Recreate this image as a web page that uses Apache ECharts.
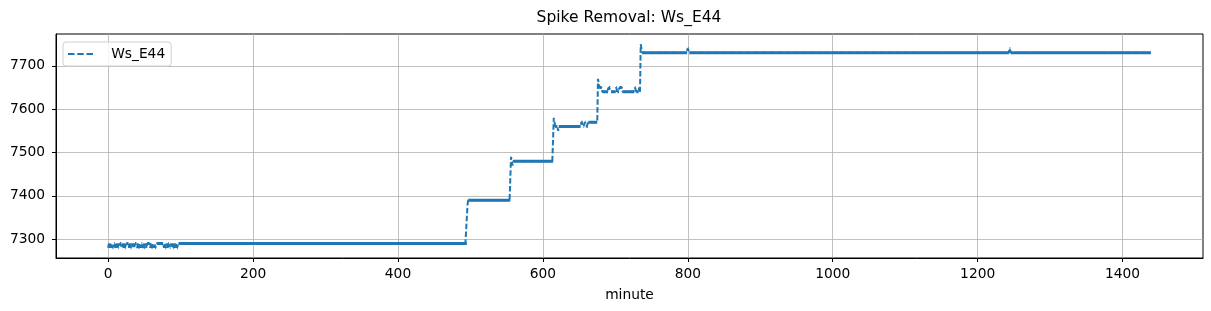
<!DOCTYPE html>
<html><head><meta charset="utf-8">
<script src="https://cdn.jsdelivr.net/npm/echarts@6/dist/echarts.min.js"></script>
<style>html,body{margin:0;padding:0;background:#fff}#c{width:1211px;height:311px}</style>
</head><body><div id="c"></div><script>
// ---- data ----
const chartTitle = 'Spike Removal: Ws_E44';
const seriesName = 'Ws_E44';
const xName = 'minute';
// level runs: value holds from levelStart[i] until the next start
const levelStart = [0,496,497,556,557,558,559,615,616,617,621,622,653,656,658,660,663,676,677,678,682,691,694,701,703,706,710,727,729,733,734,735,736,737,800,802,1244,1246];
const levelValue = [7290,7380,7390,7490,7480,7470,7480,7580,7570,7560,7550,7560,7570,7560,7570,7560,7570,7670,7660,7650,7640,7650,7640,7650,7640,7650,7640,7650,7640,7650,7640,7750,7740,7730,7740,7730,7740,7730];
// short downward spikes in the first 100 minutes: [dipStart, dipEnd) at dipValue
const dipStart = [0,2,4,6,10,12,14,19,21,23,29,31,34,36,40,42,45,48,50,53,58,60,63,65,77,79,82,85,88,90,93,95];
const dipEnd   = [1,3,5,8,11,13,16,20,22,25,30,33,35,37,41,44,46,49,52,54,59,62,64,67,78,81,83,87,89,92,94,97];
const dipValue = 7280;
const lastMinute = 1439;
const xTicks = [0,200,400,600,800,1000,1200,1400];
const yTicks = [7300,7400,7500,7600,7700];

// ---- expand to one point per minute ----
const minutes = [];
const values = [];
let r = 0;
for (let t = 0; t <= lastMinute; t++) {
  while (r + 1 < levelStart.length && levelStart[r + 1] <= t) r++;
  let v = levelValue[r];
  for (let k = 0; k < dipStart.length; k++) if (t >= dipStart[k] && t < dipEnd[k]) v = dipValue;
  minutes.push(t);
  values.push(v);
}
const dashedData = minutes.map((t, i) => [t, values[i]]);
// solid overlay only where consecutive points are level (matches dense-point look)
const solidData = [];
for (let i = 0; i < minutes.length; i++) {
  solidData.push([minutes[i], values[i]]);
  if (i + 1 < minutes.length && values[i + 1] !== values[i]) solidData.push([minutes[i] + 0.5, '-']);
}

const blue = '#1f77b4';
const font = 'DejaVu Sans';
const labelSize = 13.8;
const chart = echarts.init(document.getElementById('c'), null, {renderer: 'canvas'});
chart.setOption({
  animation: false,
  backgroundColor: '#fff',
  title: {
    text: chartTitle, left: 624, top: 5, textAlign: 'center',
    textStyle: {fontFamily: font, fontSize: 15.5, fontWeight: 'normal', color: '#000'}
  },
  legend: {
    data: [{name: seriesName, icon: 'path://M0 0H6.5V2H0Z M9.25 0H15.75V2H9.25Z M18.5 0H25V2H18.5Z'}],
    left: 63, top: 42, padding: [5, 6, 5, 5],
    itemWidth: 25, itemHeight: 2,
    formatter: n => '   ' + n,
    backgroundColor: 'rgba(255,255,255,0.8)', borderColor: '#d0d0d0', borderWidth: 1, borderRadius: 3,
    textStyle: {fontFamily: font, fontSize: labelSize, color: '#000'}
  },
  grid: {left: 56, right: 8, top: 34, bottom: 53, show: true, borderColor: '#000', borderWidth: 1, backgroundColor: 'transparent'},
  xAxis: {
    type: 'value', min: -72, max: 1511, splitNumber: 8, minInterval: 200, maxInterval: 200,
    name: xName, nameLocation: 'middle', nameGap: 30,
    nameTextStyle: {fontFamily: font, fontSize: labelSize, color: '#000'},
    axisLine: {show: true, onZero: false, lineStyle: {color: '#000', width: 1}},
    axisTick: {show: true, length: 4, lineStyle: {color: '#000'}, customValues: xTicks},
    axisLabel: {fontFamily: font, fontSize: labelSize, color: '#000', margin: 9, customValues: xTicks, formatter: v => String(v)},
    splitLine: {show: true, lineStyle: {color: '#b0b0b0', width: 0.8}}
  },
  yAxis: {
    type: 'value', min: 7256.5, max: 7773.5, splitNumber: 5, minInterval: 100, maxInterval: 100,
    axisLine: {show: true, onZero: false, lineStyle: {color: '#000', width: 1}},
    axisTick: {show: true, length: 4, lineStyle: {color: '#000'}, customValues: yTicks},
    axisLabel: {fontFamily: font, fontSize: labelSize, color: '#000', margin: 11, customValues: yTicks, formatter: v => String(v)},
    splitLine: {show: true, lineStyle: {color: '#b0b0b0', width: 0.8}}
  },
  series: [
    {
      name: '_level', type: 'line', data: solidData, symbol: 'none', connectNulls: false,
      lineStyle: {color: blue, width: 3}, itemStyle: {color: blue}, z: 3, silent: true
    },
    {
      name: seriesName, type: 'line', data: dashedData, symbol: 'none',
      lineStyle: {color: blue, width: 2}, itemStyle: {color: blue}, z: 4
    }
  ]
});
chart.setOption({series: [{}, {lineStyle: {type: [5.5, 2.4]}}]});
</script></body></html>
